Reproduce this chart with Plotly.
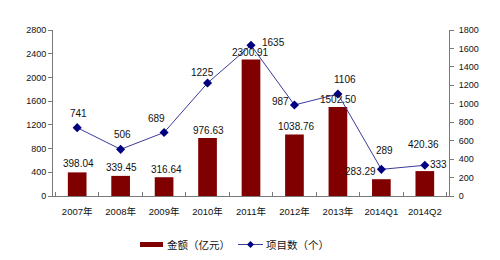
import plotly.graph_objects as go

categories = ["2007年", "2008年", "2009年", "2010年", "2011年", "2012年", "2013年", "2014Q1", "2014Q2"]
amounts = [398.04, 339.45, 316.64, 976.63, 2300.91, 1038.76, 1502.50, 283.29, 420.36]
counts = [741, 506, 689, 1225, 1635, 987, 1106, 289, 333]
amount_name = "金额（亿元）"
count_name = "项目数（个）"

# label offsets in pixels (xshift, yshift, xanchor)
bar_off = [(1, 9, "center"), (1, 8, "center"), (2, 8, "center"), (1, 8, "center"), (-1, 7, "center"),
           (2, 8, "center"), (1, 7, "center"), (-21, 8, "center"), (-1, 27, "center")]
line_off = [(1, 14, "center"), (2, 15, "center"), (-8, 14, "center"), (-5, 11, "center"), (22, 3, "center"),
            (-3, 3, "right"), (7, 15, "center"), (3, 19, "center"), (3, 1, "left")]

FONT = "Liberation Sans, Noto Sans CJK SC, sans-serif"
CJK = "Noto Sans CJK SC, sans-serif"
AX = "#7a7a7a"

L, R, T, B = 53, 51, 30, 64
W, H = 500, 260
pw, ph = W - L - R, H - T - B


def px(x):
    return (x - L) / pw


def py(y):
    return (H - B - y) / ph


fig = go.Figure()
fig.add_bar(x=categories, y=amounts, name=amount_name, marker=dict(color="#800000", line=dict(width=0)),
            yaxis="y")
fig.add_scatter(x=categories, y=counts, name=count_name, yaxis="y2", mode="lines+markers",
                line=dict(color="#3b3b9c", width=1),
                marker=dict(symbol="diamond", size=7, color="#000080"))

ann = []
for c, v, (dx, dy, xa) in zip(categories, amounts, bar_off):
    ann.append(dict(x=c, y=v, xref="x", yref="y", text=f"{v:.2f}", showarrow=False,
                    xshift=dx, yshift=dy, xanchor=xa, yanchor="middle",
                    font=dict(family=FONT, size=10, color="#111")))
for c, v, (dx, dy, xa) in zip(categories, counts, line_off):
    ann.append(dict(x=c, y=v, xref="x", yref="y2", text=str(v), showarrow=False,
                    xshift=dx, yshift=dy, xanchor=xa, yanchor="middle",
                    font=dict(family=FONT, size=10, color="#111")))

# custom legend
ann.append(dict(x=px(165), y=py(244.5), xref="paper", yref="paper", text=amount_name, showarrow=False,
                xanchor="left", yanchor="middle", font=dict(family=CJK, size=10.5, color="#111")))
ann.append(dict(x=px(264), y=py(244.5), xref="paper", yref="paper", text=count_name, showarrow=False,
                xanchor="left", yanchor="middle", font=dict(family=CJK, size=10.5, color="#111")))
shapes = [
    dict(type="rect", xref="paper", yref="paper", x0=px(140), x1=px(163), y0=py(247), y1=py(242),
         fillcolor="#800000", line=dict(width=0)),
    dict(type="line", xref="paper", yref="paper", x0=px(238), x1=px(263), y0=py(244.5), y1=py(244.5),
         line=dict(color="#3b3b9c", width=1)),
    dict(type="path", xref="paper", yref="paper",
         path=f"M {px(247)},{py(244.5)} L {px(250.5)},{py(241)} L {px(254)},{py(244.5)} L {px(250.5)},{py(248)} Z",
         fillcolor="#000080", line=dict(width=0)),
]

fig.update_layout(
    width=W, height=H, margin=dict(l=L, r=R, t=T, b=B),
    paper_bgcolor="white", plot_bgcolor="white",
    showlegend=False, bargap=0.57, hovermode=False,
    font=dict(family=FONT, size=9, color="#111"),
    xaxis=dict(type="category", showline=True, linecolor=AX, linewidth=1, ticks="inside",
               tickson="boundaries", ticklen=4, tickcolor=AX, showgrid=False,
               tickfont=dict(family=FONT, size=9.5), ticklabelstandoff=7),
    yaxis=dict(range=[0, 2800], dtick=400, showline=True, linecolor=AX, ticks="outside", ticklen=4,
               tickcolor=AX, showgrid=False, zeroline=False, tickfont=dict(size=9)),
    yaxis2=dict(range=[0, 1800], dtick=200, overlaying="y", side="right", showline=True, linecolor=AX,
                ticks="outside", ticklen=4, tickcolor=AX, showgrid=False, zeroline=False,
                tickfont=dict(size=9), ticklabelstandoff=3),
    annotations=ann, shapes=shapes,
)

fig.write_html("out.html")
